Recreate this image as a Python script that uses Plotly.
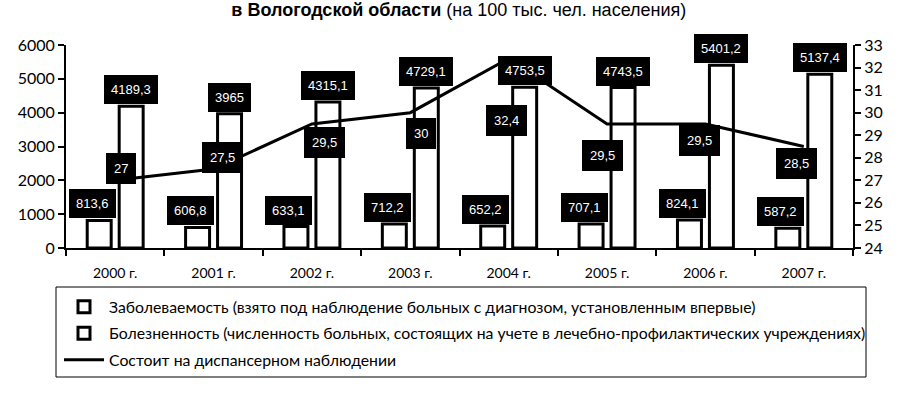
import plotly.graph_objects as go

# ---- data ----
years = ["2000 г.", "2001 г.", "2002 г.", "2003 г.", "2004 г.", "2005 г.", "2006 г.", "2007 г."]
incidence = [813.6, 606.8, 633.1, 712.2, 652.2, 707.1, 824.1, 587.2]
prevalence = [4189.3, 3965, 4315.1, 4729.1, 4753.5, 4743.5, 5401.2, 5137.4]
dispensary = [27, 27.5, 29.5, 30, 32.4, 29.5, 29.5, 28.5]

name_incidence = "Заболеваемость (взято под наблюдение больных с диагнозом, установленным впервые)"
name_prevalence = "Болезненность (численность больных, состоящих на учете в лечебно-профилактических учреждениях)"
name_dispensary = "Состоит на диспансерном наблюдении"

left_ticks = [0, 1000, 2000, 3000, 4000, 5000, 6000]
right_ticks = [24, 25, 26, 27, 28, 29, 30, 31, 32, 33]

title_bold = "в Вологодской области"
title_rest = " (на 100 тыс. чел. населения)"

# label placement (style only, pixels)
line_label_dx = [6, 9, 13, 11, -2, -5, -6, -7]
line_label_dy = [12, 12, -19, -21, -62, -32, -17, -17]


def fmt(v):
    s = ("%g" % v)
    return s.replace(".", ",")


fig = go.Figure()
fig.add_trace(go.Bar(
    x=years, y=incidence, name=name_incidence, legendgroup="a",
    marker=dict(color="white", line=dict(color="black", width=3)),
))
fig.add_trace(go.Bar(
    x=years, y=prevalence, name=name_prevalence, legendgroup="b",
    marker=dict(color="white", line=dict(color="black", width=3)),
))
fig.add_trace(go.Scatter(
    x=years, y=dispensary, name=name_dispensary, legendgroup="c", yaxis="y2",
    mode="lines", line=dict(color="black", width=3),
))

annotations = []
lab_font = dict(family="Liberation Sans, Arial, sans-serif", size=13, color="white")
for i, yr in enumerate(years):
    annotations.append(dict(
        x=yr, y=incidence[i], xref="x", yref="y", text=fmt(incidence[i]),
        showarrow=False, xshift=-23, yshift=2, yanchor="bottom",
        bgcolor="black", bordercolor="black", borderwidth=1, borderpad=6, font=lab_font,
    ))
    annotations.append(dict(
        x=yr, y=prevalence[i], xref="x", yref="y", text=fmt(prevalence[i]),
        showarrow=False, xshift=16, yshift=2, yanchor="bottom",
        bgcolor="black", bordercolor="black", borderwidth=1, borderpad=6, font=lab_font,
    ))
    annotations.append(dict(
        x=yr, y=dispensary[i], xref="x", yref="y2", text=fmt(dispensary[i]),
        showarrow=False, xshift=line_label_dx[i], yshift=line_label_dy[i], yanchor="middle",
        bgcolor="black", bordercolor="black", borderwidth=1, borderpad=7, font=lab_font,
    ))

W, H = 905, 397
ML, MR, MT, MB = 66, 52, 45, 149
plot_h = H - MT - MB
plot_w = W - ML - MR


def px_y(page_y):
    # page pixel y -> paper y
    return (H - MB - page_y) / plot_h


def px_x(page_x):
    return (page_x - ML) / plot_w


fig.update_layout(
    width=W, height=H,
    margin=dict(l=ML, r=MR, t=MT, b=MB, autoexpand=False),
    paper_bgcolor="white", plot_bgcolor="white",
    font=dict(family="Lato, Liberation Sans, sans-serif", color="black"),
    title=dict(
        text="<b>" + title_bold + "</b>" + title_rest,
        x=0.507, xanchor="center", y=1.0, yanchor="top", pad=dict(t=3, b=0),
        font=dict(family="Liberation Sans, Arial, sans-serif", size=18, color="black"),
    ),
    barmode="group", bargap=0.35, bargroupgap=0.25,
    xaxis=dict(
        type="category", showline=True, linecolor="black", linewidth=2,
        ticks="outside", tickson="boundaries", ticklen=6, tickwidth=2, tickcolor="black",
        ticklabelstandoff=11, automargin=False,
        tickfont=dict(family="Lato, sans-serif", size=14, color="black"),
        showgrid=False, zeroline=False,
    ),
    yaxis=dict(
        range=[0, 6000], tickvals=left_ticks, showline=True, linecolor="black", linewidth=2,
        ticks="outside", ticklen=6, tickwidth=2, tickcolor="black", automargin=False,
        tickfont=dict(family="Lato, sans-serif", size=16, color="black"),
        showgrid=False, zeroline=False,
    ),
    yaxis2=dict(
        range=[24, 33], tickvals=right_ticks, overlaying="y", side="right",
        showline=True, linecolor="black", linewidth=2, automargin=False,
        ticks="outside", ticklen=6, tickwidth=2, tickcolor="black",
        tickfont=dict(family="Lato, sans-serif", size=16, color="black"),
        showgrid=False, zeroline=False,
    ),
    legend=dict(
        x=px_x(59), y=px_y(290), xanchor="left", yanchor="top",
        borderwidth=0, bgcolor="rgba(0,0,0,0)",
        font=dict(family="Lato, sans-serif", size=15.8, color="black"),
        traceorder="grouped", tracegroupgap=3, itemwidth=40,
    ),
    shapes=[dict(
        type="rect", xref="paper", yref="paper",
        x0=px_x(56), x1=px_x(866), y0=px_y(377), y1=px_y(287),
        line=dict(color="black", width=1), fillcolor="rgba(0,0,0,0)", layer="below",
    )],
    annotations=annotations,
    showlegend=True,
)

fig.write_html("out.html", config={"displayModeBar": False},
               post_script="document.body.style.margin='0';")
